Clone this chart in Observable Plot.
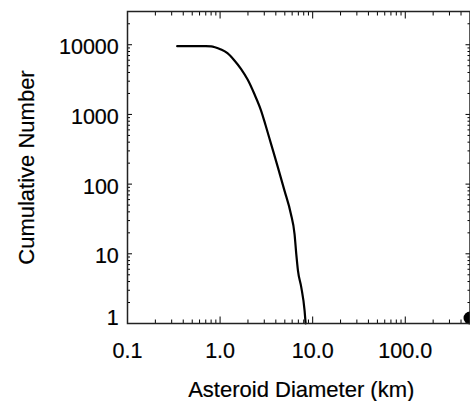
<!DOCTYPE html>
<html>
<head>
<meta charset="utf-8">
<script src="https://cdn.jsdelivr.net/npm/d3@7"></script>
<script src="https://cdn.jsdelivr.net/npm/@observablehq/plot@0.6"></script>
<style>
html, body { margin: 0; padding: 0; background: #fff; }
#chart svg { display: block; }
</style>
</head>
<body>
<div id="chart"></div>
<script>
// Cumulative size distribution
const diameterKm = [0.344, 0.70, 0.80, 0.88, 1.02, 1.20, 1.42, 1.68, 1.99, 2.34, 2.77, 3.1, 3.55, 4.21, 4.96, 5.8, 6.37, 6.65, 6.94, 7.53, 8.18, 8.39];
const cumulativeNumber = [9550, 9550, 9460, 9200, 8560, 7570, 6010, 4520, 3140, 1977, 1137, 700, 378, 174, 80.6, 38, 19.2, 9.9, 5.7, 3.3, 1.52, 1.0];

// Single large marker at the right edge
const markerDiameter = [500];
const markerNumber = [1.2];

// Ticks and labels
const xMajorTicks = [0.1, 1, 10, 100];
const xTickLabels = ["0.1", "1.0", "10.0", "100.0"];
const xMinorTicks = [0.2, 0.3, 0.4, 0.5, 0.6, 0.7, 0.8, 0.9, 2, 3, 4, 5, 6, 7, 8, 9, 20, 30, 40, 50, 60, 70, 80, 90, 200, 300, 400];
const yMajorTicks = [1, 10, 100, 1000, 10000];
const yTickLabels = ["1", "10", "100", "1000", "10000"];
const yMinorTicks = [2, 3, 4, 5, 6, 7, 8, 9, 20, 30, 40, 50, 60, 70, 80, 90, 200, 300, 400, 500, 600, 700, 800, 900, 2000, 3000, 4000, 5000, 6000, 7000, 8000, 9000, 20000];

const xTitle = "Asteroid Diameter (km)";
const yTitle = "Cumulative Number";

const curveData = diameterKm.map((d, i) => ({d, n: cumulativeNumber[i]}));
const markerData = markerDiameter.map((d, i) => ({d, n: markerNumber[i]}));

const xFmt = v => xTickLabels[xMajorTicks.indexOf(v)];
const yFmt = v => yTickLabels[yMajorTicks.indexOf(v)];

const FS = 21.5;
const tickStroke = "#000";
const textThick = {textStroke: "#000", textStrokeWidth: 0.2};

const chart = Plot.plot({
  width: 470,
  height: 401,
  marginLeft: 127,
  marginRight: 0.5,
  marginTop: 11,
  marginBottom: 78,
  style: {fontFamily: '"Liberation Sans", Arial, Helvetica, sans-serif', fontSize: FS + "px", color: "#000", background: "#fff"},
  x: {type: "log", domain: [0.1, 500]},
  y: {type: "log", domain: [1, 30000]},
  marks: [
    // inward ticks on all four sides
    Plot.axisX({anchor: "bottom", ticks: xMajorTicks, tickSize: -6.5, fill: "none", stroke: tickStroke, label: null}),
    Plot.axisX({anchor: "bottom", ticks: xMinorTicks, tickSize: -3.5, fill: "none", stroke: tickStroke, label: null}),
    Plot.axisX({anchor: "top", ticks: xMajorTicks, tickSize: -6.5, fill: "none", stroke: tickStroke, label: null}),
    Plot.axisX({anchor: "top", ticks: xMinorTicks, tickSize: -3.5, fill: "none", stroke: tickStroke, label: null}),
    Plot.axisY({anchor: "left", ticks: yMajorTicks, tickSize: -5, fill: "none", stroke: tickStroke, label: null}),
    Plot.axisY({anchor: "left", ticks: yMinorTicks, tickSize: -3, fill: "none", stroke: tickStroke, label: null}),
    Plot.axisY({anchor: "right", ticks: yMajorTicks, tickSize: -5, fill: "none", stroke: tickStroke, label: null}),
    Plot.axisY({anchor: "right", ticks: yMinorTicks, tickSize: -3, fill: "none", stroke: tickStroke, label: null}),
    // tick labels
    Plot.axisX({anchor: "bottom", ticks: xMajorTicks, tickFormat: xFmt, tickSize: 0, tickPadding: 19, fontSize: FS, label: null, ...textThick}),
    Plot.axisY({anchor: "left", ticks: yMajorTicks.slice(1), tickFormat: yFmt, tickSize: 0, tickPadding: 8.7, dy: 2.5, fontSize: FS, label: null, ...textThick}),
    Plot.axisY({anchor: "left", ticks: yMajorTicks.slice(0, 1), tickFormat: yFmt, tickSize: 0, tickPadding: 8.7, dy: -5, fontSize: FS, label: null, ...textThick}),
    // data
    Plot.line(curveData, {x: "d", y: "n", stroke: "#000", strokeWidth: 2.2, curve: "monotone-x"}),
    Plot.dot(markerData, {x: "d", y: "n", r: 6.5, fill: "#000", stroke: null}),
    Plot.frame({stroke: "#222", strokeWidth: 1.5}),
    // titles
    Plot.text([xTitle], {text: d => d, frameAnchor: "bottom", lineAnchor: "bottom", textAnchor: "middle", dy: 73, dx: 2.5, fontSize: 22, fill: "#000", stroke: "#000", strokeWidth: 0.2}),
    Plot.text([yTitle], {text: d => d, frameAnchor: "left", lineAnchor: "middle", textAnchor: "middle", rotate: -90, dx: -101, fontSize: 22, fill: "#000", stroke: "#000", strokeWidth: 0.2})
  ]
});

document.getElementById("chart").appendChild(chart);
</script>
</body>
</html>
